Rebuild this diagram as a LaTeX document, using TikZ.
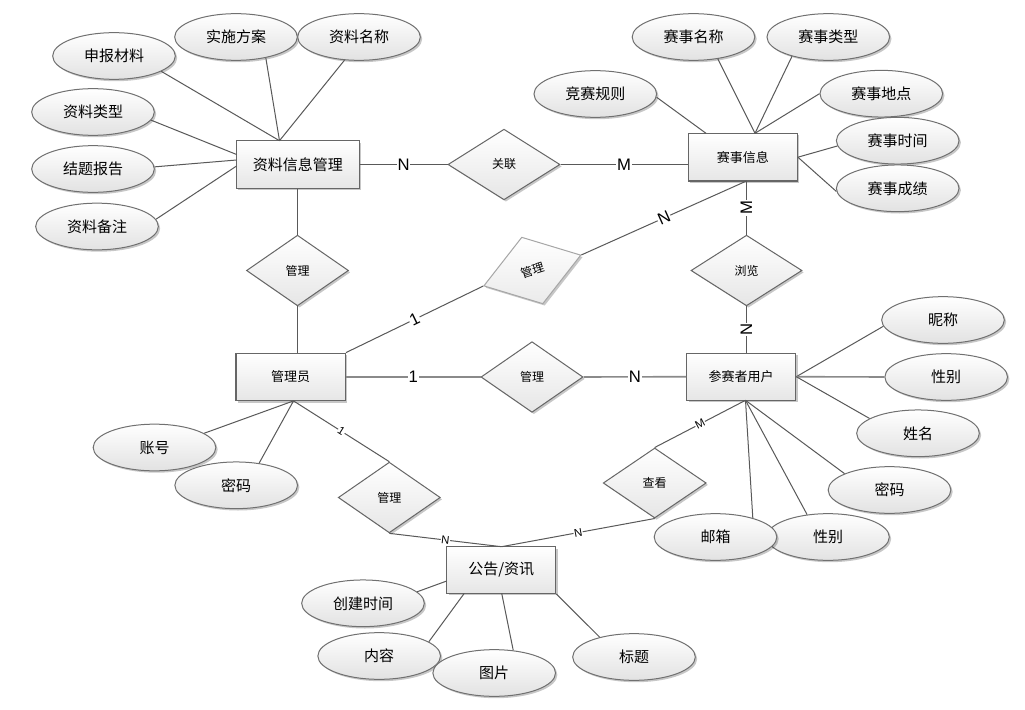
\documentclass[tikz,border=0pt]{standalone}
\usepackage{fontspec}
\setmainfont{Noto Sans CJK SC}
\newfontfamily\lat{Liberation Sans}
\usetikzlibrary{shapes.geometric,shadows}
\definecolor{lncol}{HTML}{595959}
\definecolor{lncolb}{HTML}{8A8A8A}
\definecolor{bordcol}{HTML}{707070}
\definecolor{shadecol}{HTML}{E2E2E2}
\definecolor{entbord}{HTML}{666666}
\definecolor{entshade}{HTML}{E6E6E6}
\definecolor{relbord}{HTML}{666666}
\definecolor{rotbord}{HTML}{A6A6A6}
\tikzset{
  ln/.style={draw=lncol, line width=0.75pt},
  lnb/.style={draw=lncolb, line width=1.2pt},
  shad/.style={drop shadow={shadow xshift=1.4pt, shadow yshift=-1.4pt, fill=black, opacity=0.22}},
  attr/.style={ellipse, draw=bordcol, line width=0.75pt, top color=white, bottom color=shadecol,
    minimum width=92pt, minimum height=35pt, inner sep=0pt, shad,
    font=\fontsize{11.25pt}{13pt}\selectfont},
  ent/.style={rectangle, draw=entbord, line width=0.9pt, top color=white, bottom color=entshade,
    minimum height=35.7pt, inner sep=0pt, shad, font=\fontsize{9.75pt}{11pt}\selectfont},
  entbig/.style={ent, font=\fontsize{11.25pt}{13pt}\selectfont},
  rel/.style={diamond, draw=relbord, line width=0.75pt, top color=white, bottom color=entshade,
    minimum width=76.5pt, minimum height=53pt, inner sep=0pt, shad,
    font=\fontsize{9pt}{10pt}\selectfont},
  lab/.style={fill=white, inner sep=0.6pt, font=\lat\fontsize{12.5pt}{14pt}\selectfont},
  slab/.style={fill=white, inner sep=0.4pt, font=\lat\fontsize{8.5pt}{9.5pt}\selectfont},
}
\begin{document}
\begin{tikzpicture}[x=0.75pt,y=-0.75pt]
\useasboundingbox (0,0) rectangle (1025,710);
\fill[white] (0,0) rectangle (1025,710);

% entities
\node[entbig, minimum width=92pt] (r1) at (297.8,164.5) {资料信息管理};
\node[ent, minimum width=81.75pt] (r2) at (742.8,157.2) {赛事信息};
\node[ent, minimum width=82pt] (r3) at (290.7,377) {管理员};
\node[ent, minimum width=81.75pt, minimum height=35.25pt] (r4) at (741.2,376.7) {参赛者用户};
\node[entbig, minimum width=81.75pt, minimum height=35pt] (r5) at (501.2,570) {公告/资讯};

% relationships
\node[rel, minimum width=84pt] (dgl) at (504,164.5) {关联};
\node[rel] (dg1) at (297.5,270.5) {管理};
\node[rel, draw=rotbord, bottom color=white!92!black, rotate=17.6, minimum height=52.5pt] (dg2) at (532.3,270.5) {管理};
\node[rel, minimum width=83.25pt] (dll) at (746.5,270.5) {浏览};
\node[rel] (dg3) at (532,377) {管理};
\node[rel] (dg4) at (389.3,497.5) {管理};
\node[rel, minimum width=77.25pt, minimum height=52.5pt] (dck) at (654.7,483) {查看};

% attributes
\node[attr] (esbcl) at (114,56) {申报材料};
\node[attr] (essfa) at (236,37) {实施方案};
\node[attr] (ezlmc) at (359,37) {资料名称};
\node[attr] (ezllx) at (93,112) {资料类型};
\node[attr] (ejtbg) at (93,169) {结题报告};
\node[attr] (ezlbz) at (97,226.5) {资料备注};
\node[attr] (essmc) at (693.5,37) {赛事名称};
\node[attr] (esslx) at (828.3,37) {赛事类型};
\node[attr] (ejsgz) at (595.3,94) {竞赛规则};
\node[attr] (essdd) at (881.3,93.7) {赛事地点};
\node[attr] (esssj) at (897.7,140.7) {赛事时间};
\node[attr] (esscj) at (897.7,188.3) {赛事成绩};
\node[attr] (enc) at (943,320) {昵称};
\node[attr] (exb1) at (946.2,377) {性别};
\node[attr] (exm) at (918,433.3) {姓名};
\node[attr] (emm1) at (889.5,490) {密码};
\node[attr] (exb2) at (828,537) {性别};
\node[attr] (eyx) at (715.5,537) {邮箱};
\node[attr] (ezh) at (154.5,447.5) {账号};
\node[attr] (emm2) at (236.2,485.3) {密码};
\node[attr] (ecjsj) at (363,603.3) {创建时间};
\node[attr] (enr) at (379.2,656) {内容};
\node[attr] (etp) at (494.2,673) {图片};
\node[attr] (ebt) at (634,657) {标题};

% connection points on the entity borders
\coordinate (c1t) at (279.5,140.7);
\coordinate (c1a) at (236.6,154.5);
\coordinate (c1b) at (236.6,160);
\coordinate (c1c) at (236.6,166);
\coordinate (c2t) at (755,133.3);
\coordinate (c2a) at (706,133.3);
\coordinate (c2b) at (746.5,181);
\coordinate (c3b) at (293.5,400.9);
\coordinate (c4b) at (745.5,400.3);
\coordinate (c5t) at (501.5,546.7);
\coordinate (c5a) at (446.7,581);
\coordinate (c5b) at (464.3,593.3);
\coordinate (c5c) at (501.7,593.3);

% attribute links
\draw[ln] (esbcl.-18) -- (c1t);
\draw[ln] (essfa.-35) -- (c1t);
\draw[ln] (ezlmc.-122) -- (c1t);
\draw[ln] (ezllx.-8) -- (c1a);
\draw[ln] (ejtbg.2) -- (c1b);
\draw[ln] (ezlbz.7) -- (c1c);

\draw[ln] (essmc.-42) -- (c2t);
\draw[ln] (esslx.-152) -- (c2t);
\draw[ln] (essdd.180) -- (c2t);
\draw[ln] (ejsgz.-3) -- (c2a);
\draw[ln] (esssj.-175) -- (r2.east);
\draw[ln] (esscj.-177) -- (r2.east);

\draw[ln] (enc.186) -- (r4.east);
\draw[lnb] (exb1.180) -- (r4.east);
\draw[ln] (exm.163) -- (r4.east);
\draw[ln] (emm1.160) -- (c4b);
\draw[ln] (exb2.133) -- (c4b);
\draw[ln] (eyx.27) -- (c4b);

\draw[ln] (ezh.16) -- (c3b);
\draw[ln] (emm2.44) -- (c3b);

\draw[ln] (ecjsj.12) -- (c5a);
\draw[ln] (enr.16) -- (c5b);
\draw[ln] (etp.50) -- (c5c);
\draw[ln] (ebt.150) -- (r5.south east);

% relationship links
\draw[ln] (r1.east) -- node[lab]{N} (dgl.west);
\draw[ln] (dgl.east) -- node[lab]{M} (dgl.east -| r2.west);
\draw[ln] (dg1.north) -- (dg1.north |- r1.south);
\draw[ln] (dg1.south) -- (dg1.south |- r3.north);
\draw[ln] (r3.north east) -- node[lab,sloped]{1} (dg2.west);
\draw[ln] (dg2.east) -- node[lab,sloped]{N} (c2b);
\draw[ln] (c2b) -- node[lab,rotate=90]{M} (dll.north);
\draw[ln] (dll.south) -- node[lab,rotate=90]{N} (dll.south |- r4.north);
\draw[lnb] (r3.east) -- node[lab]{1} (dg3.west);
\draw[lnb] (dg3.east) -- node[lab]{N} (r4.west);
\draw[ln] (c3b) -- node[slab,sloped]{1} (dg4.north);
\draw[ln] (dg4.south) -- node[slab,sloped]{N} (c5t);
\draw[ln] (dck.north) -- node[slab,sloped]{M} (c4b);
\draw[ln] (dck.south) -- node[slab,sloped]{N} (c5t);
\end{tikzpicture}
\end{document}
